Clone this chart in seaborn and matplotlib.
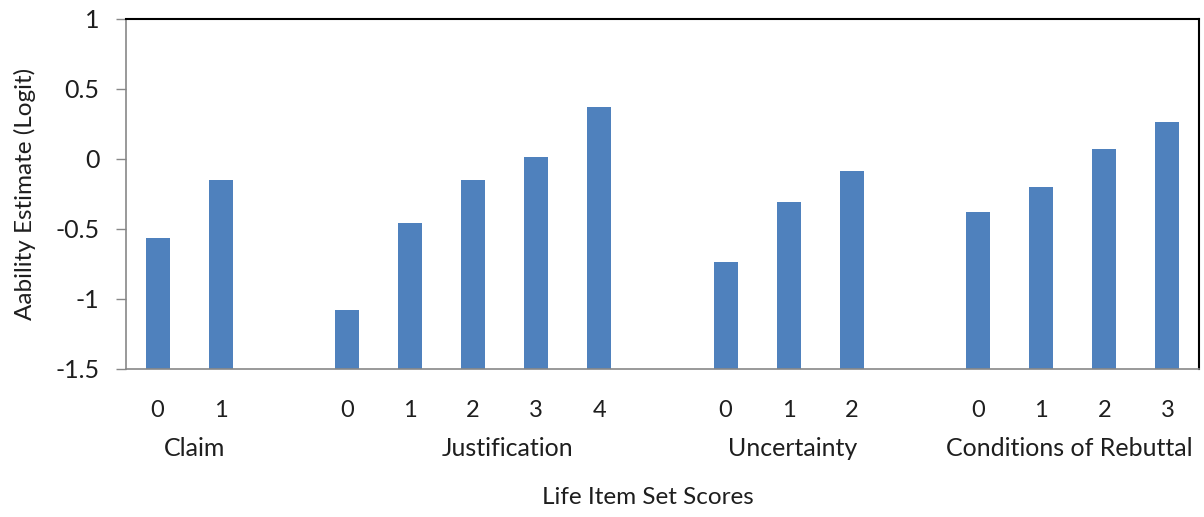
import numpy as np
import pandas as pd
import matplotlib
matplotlib.use("Agg")
import matplotlib.pyplot as plt
import matplotlib.transforms as mtransforms
import seaborn as sns

# ---- data ----
groups = ["Claim", "Justification", "Uncertainty", "Conditions of Rebuttal"]
claim_scores = [0, 1]
claim_values = [-0.57, -0.15]
justification_scores = [0, 1, 2, 3, 4]
justification_values = [-1.08, -0.46, -0.15, 0.01, 0.37]
uncertainty_scores = [0, 1, 2]
uncertainty_values = [-0.74, -0.31, -0.09]
rebuttal_scores = [0, 1, 2, 3]
rebuttal_values = [-0.38, -0.20, 0.07, 0.26]
y_ticks = [-1.5, -1, -0.5, 0, 0.5, 1]
y_tick_labels = ["-1.5", "-1", "-0.5", "0", "0.5", "1"]
x_title = "Life Item Set Scores"
y_title = "Aability Estimate (Logit)"

# ---- layout ----
BASE = -1.5
BAR_COLOR = "#4F81BD"
FONT = ["Lato", "DejaVu Sans"]
TXT = "#1e1e1e"

all_scores = [claim_scores, justification_scores, uncertainty_scores, rebuttal_scores]
all_values = [claim_values, justification_values, uncertainty_values, rebuttal_values]

rows = []
slot = 0
group_slots = []
for g, sc, vals in zip(groups, all_scores, all_values):
    slots = []
    for s, v in zip(sc, vals):
        rows.append(dict(group=g, score=str(s), value=v, slot=slot))
        slots.append(slot)
        slot += 1
    group_slots.append(slots)
    slot += 1  # blank gap slot
n_slots = slot - 1
df = pd.DataFrame(rows)
df["height"] = df["value"] - BASE

plt.rcParams["font.family"] = FONT
fig = plt.figure(figsize=(12.04, 5.17), dpi=100)
ax = fig.add_axes([126 / 1204, 1 - 368.5 / 517, (1199 - 126) / 1204, (368.5 - 19) / 517])

sns.barplot(data=df, x="slot", y="height", native_scale=True, color=BAR_COLOR,
            saturation=1, width=0.38, bottom=BASE, ax=ax, errorbar=None)

ax.set_xlim(-0.5, n_slots - 0.5)
ax.set_ylim(-1.5, 1)
ax.set_yticks(y_ticks)
ax.set_yticklabels(y_tick_labels, fontsize=18, color=TXT)
ax.tick_params(axis="y", length=7, width=1, color="#888888", pad=12)
ax.set_xticks(df["slot"].values)
ax.set_xticklabels(df["score"].values, fontsize=17, color=TXT)
ax.tick_params(axis="x", length=0, pad=23)

for side in ["left", "bottom"]:
    ax.spines[side].set_color("#888888")
    ax.spines[side].set_linewidth(1.2)
for side in ["top", "right"]:
    ax.spines[side].set_color("#000000")
    ax.spines[side].set_linewidth(1.5)
ax.set_facecolor("white")
ax.grid(False)

trans = mtransforms.blended_transform_factory(ax.transData, ax.transAxes)
label_offsets = [0.08, 0.55, 0.06, -0.05]
for g, slots, off in zip(groups, group_slots, label_offsets):
    cx = np.mean(slots) + off
    ax.text(cx, -79.5 / 349.5, g, transform=trans, ha="center", va="center",
            fontsize=18, color=TXT)

ax.set_xlabel("")
fig.text((540 + 755) / 2 / 1204, 1 - 497 / 517, x_title, ha="center", va="center",
         fontsize=17.5, color=TXT)
ax.set_ylabel(y_title, fontsize=17.5, color=TXT, labelpad=14)

fig.savefig("out.png", dpi=100, facecolor="white")
